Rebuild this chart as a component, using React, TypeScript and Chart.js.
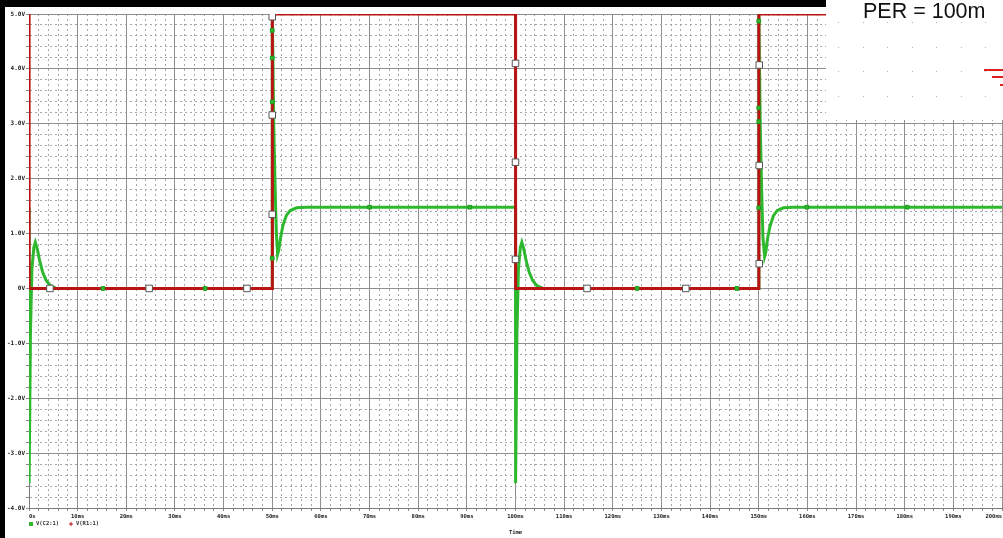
import { useEffect, useRef } from 'react';
import { Chart, registerables } from 'chart.js';

Chart.register(...registerables);

// ---- data (time in ms, voltage in V) ----
const redTime = [0, 0.02, 50, 50.02, 100, 100.02, 150, 150.02, 200];
const redVolt = [5, 0, 0, 5, 5, 0, 0, 5, 5];

const greenTime = [
  0, 0.02, 0.3, 0.6, 1.0, 1.3, 1.7, 2.2, 2.8, 3.5, 4.4, 5.6,
  50, 50.02, 50.3, 50.6, 50.85, 51.1, 51.35, 51.7, 52.2, 52.9, 53.7, 55.0, 57.0,
  100, 100.02, 100.3, 100.6, 101.0, 101.3, 101.7, 102.2, 102.8, 103.5, 104.4, 105.6,
  150, 150.02, 150.3, 150.6, 150.85, 151.2, 151.45, 151.8, 152.3, 153.0, 153.8, 155.1, 157.1,
  200,
];
const greenVolt = [
  1.48, -3.55, -0.8, 0.35, 0.75, 0.84, 0.72, 0.5, 0.3, 0.15, 0.05, 0,
  0, 4.98, 3.0, 1.8, 1.0, 0.62, 0.7, 0.92, 1.15, 1.33, 1.42, 1.47, 1.48,
  1.48, -3.55, -0.8, 0.35, 0.75, 0.84, 0.72, 0.5, 0.3, 0.15, 0.05, 0,
  0, 4.98, 3.0, 1.8, 0.95, 0.58, 0.66, 0.9, 1.13, 1.32, 1.42, 1.47, 1.48,
  1.48,
];

const whiteMarkTime = [4.3, 24.7, 44.8, 50, 50, 50, 100, 100, 100, 114.7, 135, 150.1, 150.1, 150.1];
const whiteMarkVolt = [0, 0, 0, 4.95, 3.16, 1.35, 4.1, 2.3, 0.53, 0, 0, 4.07, 2.24, 0.45];

const greenMarkTime = [15.2, 36.2, 50, 50, 50, 50, 70, 90.6, 125, 145.5, 150, 150, 150, 150, 159.9, 180.5];
const greenMarkVolt = [0, 0, 4.7, 4.2, 3.4, 0.55, 1.48, 1.48, 0, 0, 4.87, 3.29, 3.04, 1.47, 1.48, 1.48];

const seriesLabels = ['V(C2:1)', 'V(R1:1)'];
const seriesColors = ['#2eb82e', '#b81414'];

const xTickMajor = 10;
const yTickMajor = 1;
const xAxisTitle = 'Time';
const noteText = 'PER = 100m';

const pts = (xs: number[], ys: number[]) => xs.map((x, i) => ({ x, y: ys[i] }));
const isMult = (v: number, m: number) => Math.abs(v / m - Math.round(v / m)) < 1e-6;

const X_FONT = { family: '"DejaVu Sans Mono"', size: 5.5, weight: 'bold' as const };
const Y_FONT = { family: '"DejaVu Sans Mono"', size: 6, weight: 'bold' as const };
const MAJOR_GRID = '#8f8f8f';
const MINOR_GRID = '#a6a6a6';
const MINOR_DASH = [2, 3];

const decorPlugin = {
  id: 'decor',
  afterDraw(chart: any) {
    const ctx = chart.ctx as CanvasRenderingContext2D;
    const area = chart.chartArea;
    ctx.save();
    // screenshot frame strips
    ctx.fillStyle = '#000';
    ctx.fillRect(0, 0, 5, chart.height);
    ctx.fillRect(0, 0, 826, 7);
    // pasted note box
    ctx.fillStyle = '#fff';
    ctx.fillRect(826, 0, chart.width - 826, 120);
    ctx.fillStyle = '#b0b0b0';
    for (let gx = 838; gx < chart.width; gx += 24.5) {
      for (let gy = 22; gy < 118; gy += 24.5) {
        ctx.fillRect(Math.round(gx), Math.round(gy), 1, 1);
      }
    }
    ctx.fillStyle = '#e02020';
    ctx.fillRect(984, 69, chart.width - 984, 2);
    ctx.fillRect(992, 76, chart.width - 992, 2);
    ctx.fillRect(1000, 84, chart.width - 1000, 2);
    ctx.fillStyle = '#111';
    ctx.font = '21.5px "Liberation Sans", Arial, sans-serif';
    ctx.textBaseline = 'alphabetic';
    ctx.textAlign = 'left';
    ctx.fillText(noteText, 863, 18);
    // legend (drawn from the dataset labels/colours)
    ctx.font = 'bold 5.5px "DejaVu Sans Mono"';
    ctx.textBaseline = 'middle';
    const ly = 524;
    let lx = area.left + 2;
    chart.data.datasets.slice(0, 2).forEach((ds: any, i: number) => {
      ctx.fillStyle = ds.borderColor;
      if (i === 0) {
        ctx.fillRect(lx - 2, ly - 2, 4, 4);
      } else {
        ctx.fillRect(lx - 2, ly - 0.5, 4, 1);
        ctx.fillRect(lx - 0.5, ly - 2, 1, 4);
      }
      ctx.fillStyle = '#333';
      ctx.fillText(ds.label, lx + 5, ly);
      lx += 40;
    });
    ctx.restore();
  },
};

export default function App() {
  const canvasRef = useRef<HTMLCanvasElement | null>(null);

  useEffect(() => {
    document.body.style.margin = '0';
    const canvas = canvasRef.current;
    if (!canvas) return;
    const chart = new Chart(canvas, {
      type: 'line',
      data: {
        datasets: [
          {
            label: seriesLabels[0],
            data: pts(greenTime, greenVolt),
            borderColor: seriesColors[0],
            backgroundColor: seriesColors[0],
            borderWidth: 3,
            pointRadius: 0,
            tension: 0,
            order: 1,
          },
          {
            label: seriesLabels[1],
            data: pts(redTime, redVolt),
            borderColor: seriesColors[1],
            backgroundColor: seriesColors[1],
            borderWidth: 3,
            pointRadius: 0,
            tension: 0,
            order: 0,
          },
          {
            label: 'green markers',
            data: pts(greenMarkTime, greenMarkVolt),
            showLine: false,
            pointStyle: 'rect',
            pointRadius: 2.6,
            pointBackgroundColor: seriesColors[0],
            pointBorderColor: '#1e9a1e',
            pointBorderWidth: 1,
            order: -1,
          },
          {
            label: 'white markers',
            data: pts(whiteMarkTime, whiteMarkVolt),
            showLine: false,
            pointStyle: 'rect',
            pointRadius: 4.6,
            pointBackgroundColor: '#ffffff',
            pointBorderColor: '#555555',
            pointBorderWidth: 1,
            order: -2,
          },
        ],
      },
      options: {
        responsive: false,
        animation: false,
        devicePixelRatio: 1,
        layout: { autoPadding: false, padding: { left: 0, right: 1, top: 14, bottom: 0 } },
        plugins: {
          legend: { display: false },
          tooltip: { enabled: false },
        },
        scales: {
          x: {
            type: 'linear',
            min: 0,
            max: 200,
            afterFit: (s: any) => {
              s.height = 30;
              s.paddingLeft = 0;
              s.paddingRight = 0;
            },
            ticks: {
              stepSize: 2,
              autoSkip: false,
              maxTicksLimit: 1000,
              maxRotation: 0,
              minRotation: 0,
              align: 'inner',
              padding: 2,
              color: '#222',
              font: X_FONT,
              callback: (v: any) => {
                const n = Number(v);
                if (!isMult(n, xTickMajor)) return '';
                return n === 0 ? '0s' : `${Math.round(n)}ms`;
              },
            },
            grid: {
              color: (c: any) => (c.tick && isMult(c.tick.value, xTickMajor) ? MAJOR_GRID : MINOR_GRID),
              lineWidth: 1,
              tickLength: 3,
              tickColor: '#8a8a8a',
            },
            border: {
              display: true,
              color: '#7a7a7a',
              width: 1,
              dash: (c: any) => (c.tick && !isMult(c.tick.value, xTickMajor) ? MINOR_DASH : []),
            },
            title: {
              display: true,
              text: xAxisTitle,
              color: '#222',
              font: X_FONT,
              padding: { top: 0, bottom: 2 },
            },
          },
          y: {
            type: 'linear',
            min: -4,
            max: 5,
            afterFit: (s: any) => {
              s.width = 29;
              s.paddingTop = 0;
              s.paddingBottom = 0;
            },
            ticks: {
              stepSize: 0.2,
              autoSkip: false,
              maxTicksLimit: 1000,
              padding: 1,
              color: '#222',
              font: Y_FONT,
              callback: (v: any) => {
                const n = Number(v);
                if (!isMult(n, yTickMajor)) return '';
                const r = Math.round(n);
                return r === 0 ? '0V' : `${r.toFixed(1)}V`;
              },
            },
            grid: {
              color: (c: any) => (c.tick && isMult(c.tick.value, yTickMajor) ? MAJOR_GRID : MINOR_GRID),
              lineWidth: 1,
              tickLength: 3,
              tickColor: '#8a8a8a',
            },
            border: {
              display: true,
              color: '#7a7a7a',
              width: 1,
              dash: (c: any) => (c.tick && !isMult(c.tick.value, yTickMajor) ? MINOR_DASH : []),
            },
          },
        },
      } as any,
      plugins: [decorPlugin],
    });
    return () => chart.destroy();
  }, []);

  return (
    <div style={{ width: 1003, height: 538, position: 'relative', background: '#fff' }}>
      <canvas ref={canvasRef} width={1003} height={538} />
    </div>
  );
}
